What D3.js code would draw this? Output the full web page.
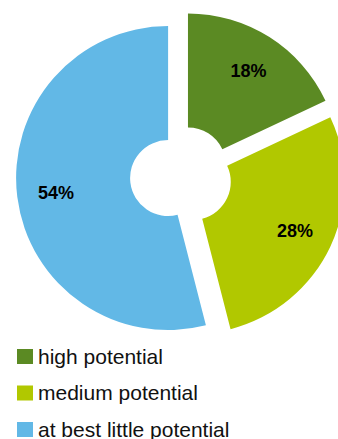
<!DOCTYPE html>
<html>
<head>
<meta charset="utf-8">
<script src="https://cdn.jsdelivr.net/npm/d3@7"></script>
<style>
  html, body { margin: 0; padding: 0; background: #fff; }
  svg { display: block; }
</style>
</head>
<body>
<svg id="chart" width="338" height="439"></svg>
<script>
const categories = ["high potential", "medium potential", "at best little potential"];
const values = [18, 28, 54];
const colors = ["#5B8A23", "#B1C800", "#62B8E6"];

const svg = d3.select("#chart");
const cx = 181, cy = 176.4;
const outerR = 152, innerR = 38, explode = 13, labelR = 113;

const pie = d3.pie().sort(null).value(d => d)(values);
const arc = d3.arc().innerRadius(innerR).outerRadius(outerR);
const color = d3.scaleOrdinal().domain(categories).range(colors);

const g = svg.append("g").attr("transform", `translate(${cx},${cy})`);

const slices = g.selectAll("g.slice").data(pie).enter().append("g")
  .attr("class", "slice")
  .attr("transform", d => {
    const a = (d.startAngle + d.endAngle) / 2;
    return `translate(${Math.sin(a) * explode},${-Math.cos(a) * explode})`;
  });

slices.append("path")
  .attr("d", arc)
  .attr("fill", (d, i) => color(categories[i]));

slices.append("text")
  .attr("x", d => Math.sin((d.startAngle + d.endAngle) / 2) * labelR)
  .attr("y", d => -Math.cos((d.startAngle + d.endAngle) / 2) * labelR)
  .attr("dy", "0.36em")
  .attr("text-anchor", "middle")
  .attr("font-family", "Liberation Sans, Arial, sans-serif")
  .attr("font-weight", "bold")
  .attr("font-size", "18px")
  .attr("fill", "#000")
  .text(d => d.value + "%");

const legend = svg.append("g");
const rowY = d3.scaleLinear().domain([0, 1]).range([349, 385.5]);
const items = legend.selectAll("g").data(categories).enter().append("g")
  .attr("transform", (d, i) => `translate(17,${rowY(i)})`);
items.append("rect")
  .attr("width", 16).attr("height", 15)
  .attr("fill", d => color(d));
items.append("text")
  .attr("x", 21).attr("y", 14.5)
  .attr("font-family", "Liberation Sans, Arial, sans-serif")
  .attr("font-size", "21px")
  .attr("fill", "#111")
  .text(d => d);
</script>
</body>
</html>
